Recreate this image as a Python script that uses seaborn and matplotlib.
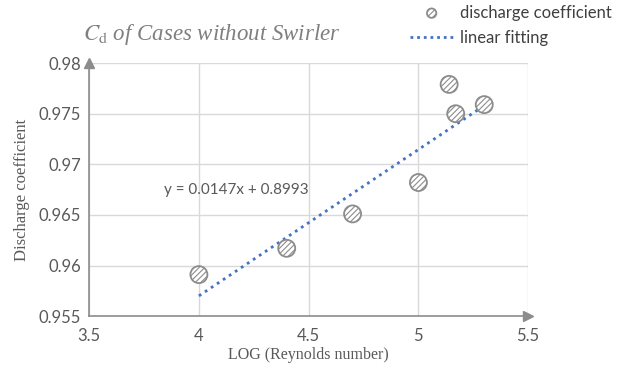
import matplotlib
matplotlib.use('Agg')
import matplotlib.pyplot as plt
from matplotlib.lines import Line2D
import seaborn as sns
import pandas as pd

# values
log_re = [4.0, 4.4, 4.7, 5.0, 5.14, 5.17, 5.3]
cd = [0.9591, 0.9617, 0.9651, 0.9682, 0.9779, 0.9750, 0.9759]
fit_x = [4.0, 5.3]
fit_y = [0.9570, 0.9758]
x_ticks = [3.5, 4, 4.5, 5, 5.5]
y_ticks = [0.955, 0.96, 0.965, 0.97, 0.975, 0.98]
x_labels = ['3.5', '4', '4.5', '5', '5.5']
y_labels = ['0.955', '0.96', '0.965', '0.97', '0.975', '0.98']

df = pd.DataFrame({'log_re': log_re, 'cd': cd})
fit = pd.DataFrame({'x': fit_x, 'y': fit_y})

sns.set_style('white')
plt.rcParams['font.family'] = ['Lato', 'DejaVu Sans']
plt.rcParams['hatch.color'] = '#8c8c8c'
plt.rcParams['hatch.linewidth'] = 0.8

grey = '#595959'
axis_grey = '#8c8c8c'
blue = '#4472c4'

fig = plt.figure(figsize=(6.28, 3.65), dpi=100)
ax = fig.add_axes([0.142, 0.134, 0.699, 0.693])

sns.lineplot(data=fit, x='x', y='y', ax=ax, color=blue, linestyle=(0, (1, 1.6)),
             linewidth=2.0, zorder=2, errorbar=None)
sns.scatterplot(data=df, x='log_re', y='cd', ax=ax, s=150, marker='o',
                facecolor='white', edgecolor='#8c8c8c', linewidth=1.3,
                hatch='//////', zorder=3)
pts = ax.collections[-1]

ax.set_xlim(3.5, 5.5)
ax.set_ylim(0.955, 0.98)
ax.set_xticks(x_ticks)
ax.set_xticklabels(x_labels)
ax.set_yticks(y_ticks)
ax.set_yticklabels(y_labels)
ax.grid(True, color='#d9d9d9', linewidth=1.0)
ax.set_axisbelow(True)
for s in ['top', 'right']:
    ax.spines[s].set_visible(False)
for s in ['left', 'bottom']:
    ax.spines[s].set_color(axis_grey)
    ax.spines[s].set_linewidth(1.2)
ax.tick_params(axis='both', colors=axis_grey, labelcolor=grey, labelsize=12,
               length=5, width=1.0, direction='out')
ax.tick_params(axis='y', length=0, pad=6)

# arrow heads on axes
ax.plot([1.0], [0.0], marker='>', transform=ax.transAxes, clip_on=False,
        color=axis_grey, markersize=7, linestyle='none', zorder=10)
ax.plot([0.0], [1.0], marker='^', transform=ax.transAxes, clip_on=False,
        color=axis_grey, markersize=7, linestyle='none', zorder=10)

ax.set_xlabel('LOG (Reynolds number)', family='Liberation Serif', fontsize=11.5,
              color=grey, labelpad=2)
ax.set_ylabel('Discharge coefficient', family='Liberation Serif', fontsize=12,
              color=grey, labelpad=6)

ax.text(3.84, 0.9675, 'y = 0.0147x + 0.8993', fontsize=11, color=grey,
        va='center', ha='left')

fig.text(0.338, 0.905, r'$C_{\mathrm{d}}$ of Cases without Swirler', ha='center',
         va='center', fontsize=16.5, color='#7f7f7f', family='Liberation Serif',
         style='italic', math_fontfamily='stix')

handles = [
    pts,
    Line2D([], [], color=blue, linestyle=(0, (1, 1.4)), linewidth=2.0),
]
leg = fig.legend(handles, ['discharge coefficient', 'linear fitting'],
                 loc='upper right', bbox_to_anchor=(0.99, 1.015), frameon=False,
                 fontsize=12, handlelength=2.6, handletextpad=0.4,
                 labelspacing=0.55, borderaxespad=0.2, markerscale=0.55,
                 scatterpoints=1)
for t in leg.get_texts():
    t.set_color('#404040')

fig.savefig('out.png', dpi=100)
